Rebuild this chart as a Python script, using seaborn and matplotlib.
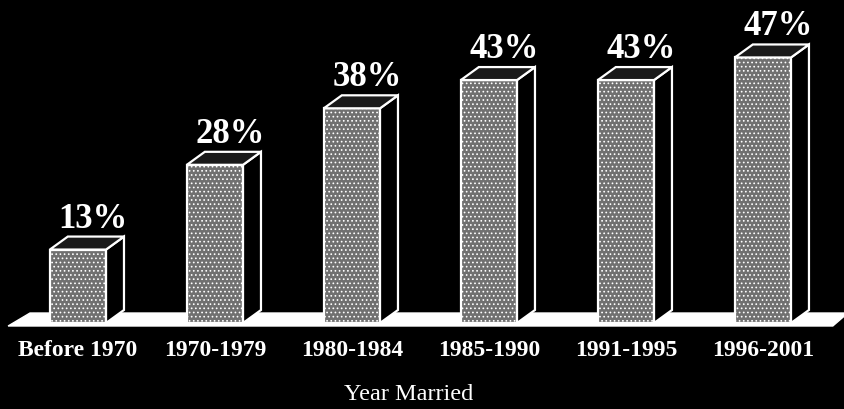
import numpy as np
import matplotlib.pyplot as plt
import seaborn as sns
from matplotlib.patches import Polygon

sns.set_style("dark")
plt.rcParams['font.family'] = ['Liberation Serif', 'DejaVu Serif']
plt.rcParams['hatch.color'] = 'white'
plt.rcParams['hatch.linewidth'] = 0.7

# data
periods = ['Before 1970', '1970-1979', '1980-1984', '1985-1990', '1991-1995', '1996-2001']
percent = [13, 28, 38, 43, 43, 47]
labels = [f'{v}%' for v in percent]

fig = plt.figure(figsize=(8.45, 4.09), dpi=100, facecolor='black')
ax = fig.add_axes([0, 0, 1, 1])
ax.set_facecolor('black')

sns.barplot(x=periods, y=percent, width=0.41, color='#707070', saturation=1,
            edgecolor='white', linewidth=1.6, hatch='....', ax=ax, zorder=3)

ax.set_xlim(-0.569, 5.599)
ax.set_ylim(-15.22, 57.17)

# fake 3D depth
dx, dy = 0.131, 2.3
for bar, lab in zip(list(ax.patches), labels):
    x0, w, h = bar.get_x(), bar.get_width(), bar.get_height()
    side = [(x0 + w, 0), (x0 + w + dx, dy), (x0 + w + dx, h + dy), (x0 + w, h)]
    top = [(x0, h), (x0 + dx, h + dy), (x0 + w + dx, h + dy), (x0 + w, h)]
    ax.add_patch(Polygon(side, closed=True, facecolor='black', edgecolor='white', lw=1.6, zorder=3))
    ax.add_patch(Polygon(top, closed=True, facecolor='#1a1a1a', edgecolor='white', lw=1.6, zorder=3))
    ax.text(x0 + w / 2 + 0.11, h + dy + 1.6, lab, ha='center', va='baseline',
            color='white', fontsize=25, fontweight='bold')

# floor
floor = [(-0.51, -0.53), (5.51, -0.53), (5.62, 1.77), (-0.35, 1.77)]
ax.add_patch(Polygon(floor, closed=True, facecolor='white', edgecolor='white', zorder=1))

ax.grid(False)
for s in ax.spines.values():
    s.set_visible(False)
ax.spines['bottom'].set_position(('data', 0))
ax.set_yticks([])
ax.tick_params(axis='x', length=0, pad=12, colors='white', labelsize=17)
for t in ax.get_xticklabels():
    t.set_fontweight('bold')
ax.set_xlabel('Year Married', color='white', fontsize=17.5, labelpad=17)
ax.xaxis.label.set_x(0.484)
ax.set_ylabel('')

plt.savefig('out.png', dpi=100, facecolor='black')
